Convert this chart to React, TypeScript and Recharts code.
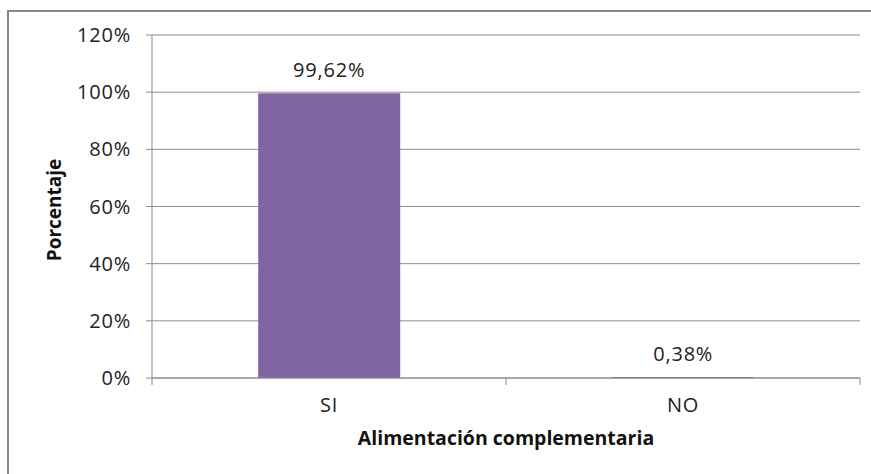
import { Bar, BarChart, CartesianGrid, LabelList, XAxis, YAxis } from "recharts"

const categories = ["SI", "NO"]
const percentages = [99.62, 0.38]
const yTicks = [0, 20, 40, 60, 80, 100, 120]
const yAxisTitle = "Porcentaje"
const xAxisTitle = "Alimentación complementaria"

const data = categories.map((name, i) => ({ name, value: percentages[i] }))

const font = "'Open Sans', sans-serif"
const gray = "#8c8c8c"
const tickFont = { fill: "#222", fontSize: 20, letterSpacing: 0.8, fontFamily: font }

const X_TICK_SIZE = 7
const X_TICK_MARGIN = 13

// category label plus Excel-style tick marks on the band edges
function CategoryTick(props: any) {
  const { x, y, payload, index, visibleTicksCount } = props
  const axisY = y - X_TICK_SIZE - X_TICK_MARGIN
  const half = payload.offset ?? 0
  const last = index === visibleTicksCount - 1
  return (
    <g>
      <line x1={x - half} x2={x - half} y1={axisY} y2={axisY + X_TICK_SIZE} stroke={gray} />
      {last && <line x1={x + half} x2={x + half} y1={axisY} y2={axisY + X_TICK_SIZE} stroke={gray} />}
      <text x={x} y={y} dy="0.71em" textAnchor="middle" {...tickFont}>
        {payload.value}
      </text>
    </g>
  )
}

export default function App() {
  return (
    <div style={{ position: "absolute", left: 0, top: 0, width: 871, height: 474, background: "#fff", overflow: "hidden" }}>
      <div
        style={{
          position: "absolute",
          left: 7,
          top: 10,
          right: -10,
          bottom: -10,
          borderLeft: "2px solid #878787",
          borderTop: "2px solid #878787",
        }}
      />
      <div style={{ position: "absolute", left: 0, top: 0 }}>
        <BarChart
          width={871}
          height={474}
          data={data}
          margin={{ top: 35, right: 11, bottom: 66, left: 80 }}
          barCategoryGap="30%"
          style={{ fontFamily: font }}
        >
          <CartesianGrid vertical={false} stroke={gray} strokeWidth={1} />
          <XAxis
            dataKey="name"
            height={30}
            axisLine={{ stroke: gray }}
            tickLine={false}
            tickSize={X_TICK_SIZE}
            tickMargin={X_TICK_MARGIN}
            tick={CategoryTick}
            label={{
              content: () => (
                <text x={506} y={445} textAnchor="middle" fontFamily={font} fontWeight="bold" fontSize={19.5} fill="#111">
                  {xAxisTitle}
                </text>
              ),
            }}
          />
          <YAxis
            width={72}
            domain={[0, 120]}
            ticks={yTicks}
            tickFormatter={(v) => `${v}%`}
            axisLine={{ stroke: gray }}
            tickLine={{ stroke: gray }}
            tickSize={6}
            tickMargin={15}
            tick={tickFont}
            label={{
              content: () => (
                <text
                  x={61}
                  y={210}
                  transform="rotate(-90 61 210)"
                  textAnchor="middle"
                  fontFamily={font}
                  fontWeight="bold"
                  fontSize={19}
                  fill="#111"
                >
                  {yAxisTitle}
                </text>
              ),
            }}
          />
          <Bar dataKey="value" fill="#8064A2" isAnimationActive={false}>
            <LabelList
              dataKey="value"
              position="top"
              offset={16}
              formatter={(v: number) => `${v.toFixed(2).replace(".", ",")}%`}
              style={tickFont}
            />
          </Bar>
        </BarChart>
      </div>
    </div>
  )
}
